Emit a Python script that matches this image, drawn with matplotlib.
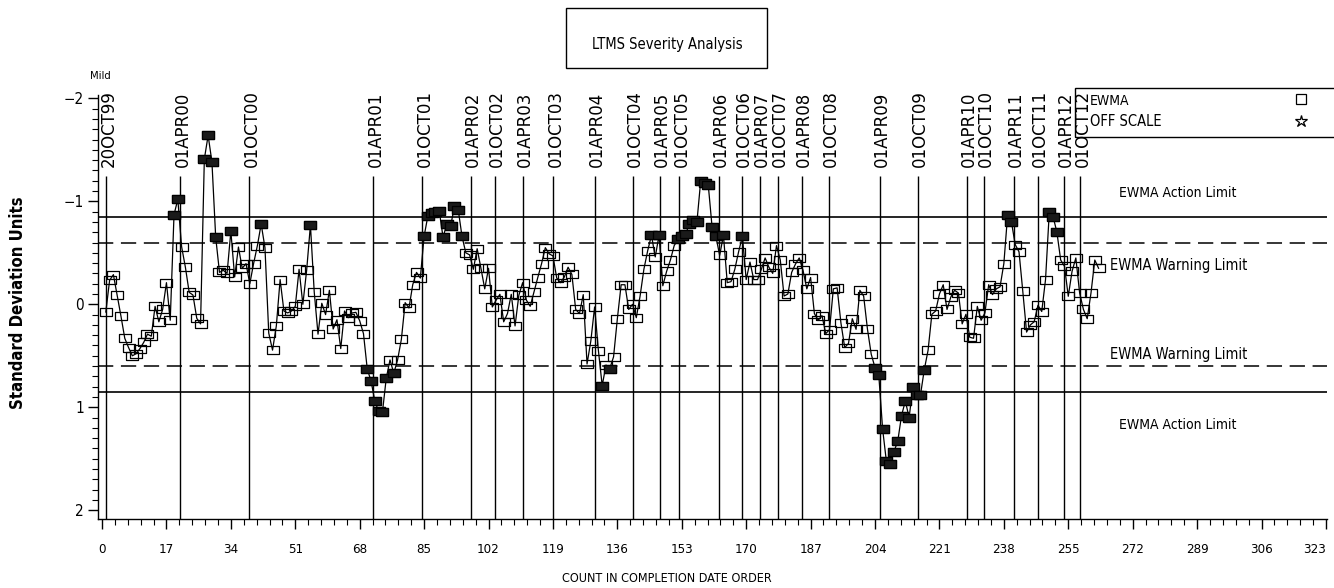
import numpy as np
import matplotlib
matplotlib.use("Agg")
import matplotlib.pyplot as plt
from matplotlib.patches import Rectangle
from matplotlib.ticker import MultipleLocator

# EWMA severity values, one per test in completion order (count 1..263)
ewma = [
    0.075, -0.233, -0.288, -0.087, 0.116, 0.33, 0.42, 0.5, 0.48, 0.43,
    0.37, 0.29, 0.31, 0.02, 0.17, 0.05, -0.21, 0.155, -0.87, -1.02,
    -0.56, -0.36, -0.116, -0.09, 0.136, 0.19, -1.41, -1.64, -1.385, -0.65,
    -0.31, -0.33, -0.30, -0.71, -0.265, -0.556, -0.35, -0.395, -0.2, -0.395,
    -0.57, -0.78, -0.55, 0.28, 0.445, 0.21, -0.24, 0.065, 0.084, 0.065,
    0.02, -0.34, 0.0, -0.33, -0.77, -0.12, 0.29, -0.01, 0.1, -0.136,
    0.24, 0.15, 0.43, 0.065, 0.13, 0.084, 0.078, 0.16, 0.285, 0.63,
    0.745, 0.94, 1.04, 1.05, 0.72, 0.54, 0.67, 0.54, 0.34, -0.016,
    0.036, -0.19, -0.31, -0.255, -0.66, -0.86, -0.886, -0.9, -0.906, -0.65,
    -0.78, -0.76, -0.95, -0.92, -0.66, -0.5, -0.48, -0.34, -0.54, -0.35,
    -0.15, -0.35, 0.026, -0.04, -0.097, 0.17, 0.09, -0.097, 0.21, -0.087,
    -0.21, -0.04, 0.02, -0.12, -0.26, -0.395, -0.55, -0.49, -0.47, -0.255,
    -0.21, -0.265, -0.36, -0.29, 0.05, 0.09, -0.094, 0.58, 0.356, 0.026,
    0.45, 0.79, 0.59, 0.625, 0.51, 0.14, -0.19, -0.19, 0.05, 0.0,
    0.13, -0.08, -0.34, -0.52, -0.67, -0.46, -0.67, -0.18, -0.32, -0.43,
    -0.57, -0.63, -0.66, -0.68, -0.78, -0.82, -0.8, -1.2, -1.18, -1.155,
    -0.75, -0.66, -0.475, -0.67, -0.21, -0.22, -0.34, -0.51, -0.66, -0.24,
    -0.41, -0.24, -0.24, -0.34, -0.45, -0.36, -0.3, -0.57, -0.43, -0.08,
    -0.1, -0.31, -0.39, -0.45, -0.33, -0.15, -0.26, 0.09, 0.155, 0.11,
    0.285, 0.246, -0.15, -0.16, 0.18, 0.42, 0.38, 0.14, 0.243, -0.136,
    -0.08, 0.24, 0.485, 0.615, 0.69, 1.21, 1.525, 1.555, 1.43, 1.33,
    1.08, 0.94, 1.1, 0.80, 0.88, 0.88, 0.635, 0.447, 0.097, 0.065,
    -0.1, -0.19, 0.05, -0.07, -0.136, -0.11, 0.19, 0.097, 0.32, 0.33,
    0.02, 0.155, 0.084, -0.19, -0.094, -0.15, -0.17, -0.395, -0.87, -0.8,
    -0.58, -0.51, -0.126, 0.27, 0.2, 0.17, 0.01, 0.07, -0.24, -0.9,
    -0.85, -0.7, -0.43, -0.37, -0.078, -0.32, -0.45, -0.11, 0.05, 0.14,
    -0.11, -0.43, -0.35,
]
count = np.arange(1, len(ewma) + 1)

# date markers (position on the count axis)
date_labels = ["20OCT99", "01APR00", "01OCT00", "01APR01", "01OCT01", "01APR02",
               "01OCT02", "01APR03", "01OCT03", "01APR04", "01OCT04", "01APR05",
               "01OCT05", "01APR06", "01OCT06", "01APR07", "01OCT07", "01APR08",
               "01OCT08", "01APR09", "01OCT09", "01APR10", "01OCT10", "01APR11",
               "01OCT11", "01APR12", "01OCT12"]
date_pos = [1.05, 20.7, 38.9, 71.6, 84.5, 97.3, 103.6, 111.0, 119.1, 130.0,
            140.0, 147.2, 152.4, 162.7, 168.9, 173.6, 178.3, 184.7, 191.8, 205.3,
            215.3, 228.2, 232.7, 240.6, 246.9, 253.8, 258.2]

action_limit = 0.85
warning_limit = 0.6
x_ticks = list(range(0, 324, 17))
y_ticks = [-2, -1, 0, 1, 2]
y_ticklabels = ["\u22122", "\u22121", "0", "1", "2"]

narrow = dict(family="DejaVu Sans", stretch="condensed")

fig = plt.figure(figsize=(13.34, 5.88), dpi=100)
ax = fig.add_axes([0.0735, 0.117, 0.9213, 0.721])
ax.set_xlim(-1.05, 323.3)
ax.set_ylim(2.087, -2.03)

for s in ["top", "right"]:
    ax.spines[s].set_visible(False)
ax.spines["left"].set_linewidth(1.0)
ax.spines["bottom"].set_linewidth(1.0)

# limit lines
for sgn in (-1, 1):
    ax.axhline(sgn * action_limit, color="black", lw=1.2, zorder=1)
    ax.axhline(sgn * warning_limit, color="black", lw=1.1, ls=(0, (10, 5)), zorder=1)

ax.text(284, -1.08, "EWMA Action Limit", ha="center", va="center", fontsize=10, **narrow)
ax.text(284, -0.38, "EWMA Warning Limit", ha="center", va="center", fontsize=10.5, **narrow)
ax.text(284, 0.49, "EWMA Warning Limit", ha="center", va="center", fontsize=10.5, **narrow)
ax.text(284, 1.17, "EWMA Action Limit", ha="center", va="center", fontsize=10, **narrow)

# date reference lines
ax.vlines(date_pos, -1.25, 2.087, color="black", lw=1.0, zorder=1)
for xp, lab in zip(date_pos, date_labels):
    ax.text(xp + 0.6, -1.33, lab, rotation=90, ha="center", va="bottom", fontsize=12)

# EWMA series
rect = [(-1.4, -1), (1.4, -1), (1.4, 1), (-1.4, 1), (-1.4, -1)]
vals = np.array(ewma)
ax.plot(count, vals, color="black", lw=0.9, zorder=3)
ax.plot(count, vals, ls="none", marker=rect, ms=8, mfc="none", mec="black", mew=0.9, zorder=4)
out = np.abs(vals) > warning_limit
ax.plot(count[out], vals[out], ls="none", marker=rect, ms=8, mfc="#1a1a1a", mec="black",
        mew=0.9, zorder=5)

# axes ticks
ax.set_xticks(x_ticks)
ax.set_xticklabels([str(t) for t in x_ticks], fontsize=9.5, **narrow)
ax.get_xticklabels()[-1].set_ha("right")
ax.xaxis.set_minor_locator(MultipleLocator(3.4))
ax.set_yticks(y_ticks)
ax.set_yticklabels(y_ticklabels, fontsize=11, **narrow)
ax.yaxis.set_minor_locator(MultipleLocator(0.1))
ax.tick_params(axis="x", which="major", direction="out", length=7, width=1.0, pad=10)
ax.tick_params(axis="x", which="minor", direction="out", length=4, width=0.8)
ax.tick_params(axis="y", which="major", direction="out", length=7, width=1.0, pad=3)
ax.tick_params(axis="y", which="minor", direction="out", length=4, width=0.8)

fig.text(100 / 1334, 1 - 76 / 588, "Mild", fontsize=8, ha="center", va="center", **narrow)
fig.text(18 / 1334, 1 - 303 / 588, "Standard Deviation Units", rotation=90, ha="center",
         va="center", fontsize=12, fontweight="bold", **narrow)
fig.text(0.5, 1 - 579 / 588, "COUNT IN COMPLETION DATE ORDER", ha="center", va="center",
         fontsize=9, **narrow)

# title box
fig.patches.append(Rectangle((566 / 1334, 1 - 68 / 588), 201 / 1334, 60 / 588,
                             transform=fig.transFigure, fill=False, ec="black", lw=1.0))
fig.text(0.5, 1 - 45 / 588, "LTMS Severity Analysis", ha="center", va="center",
         fontsize=10.5, **narrow)

# legend box
fig.patches.append(Rectangle((1075 / 1334, 1 - 137 / 588), 270 / 1334, 49 / 588,
                             transform=fig.transFigure, fill=False, ec="black", lw=1.0))
fig.text(1090 / 1334, 1 - 101 / 588, "EWMA", ha="left", va="center", fontsize=10, **narrow)
fig.text(1090 / 1334, 1 - 121 / 588, "OFF SCALE", ha="left", va="center", fontsize=10.5, **narrow)
leg = fig.add_axes([0.96, 1 - 137 / 588, 0.03, 49 / 588])
leg.set_xlim(0, 1)
leg.set_ylim(137, 88)
leg.axis("off")
leg.plot([0.5], [99], marker="s", ms=7, mfc="none", mec="black", mew=0.9)
leg.plot([0.5], [121], marker="*", ms=9, mfc="none", mec="black", mew=0.9)

fig.savefig("out.png", dpi=100)
